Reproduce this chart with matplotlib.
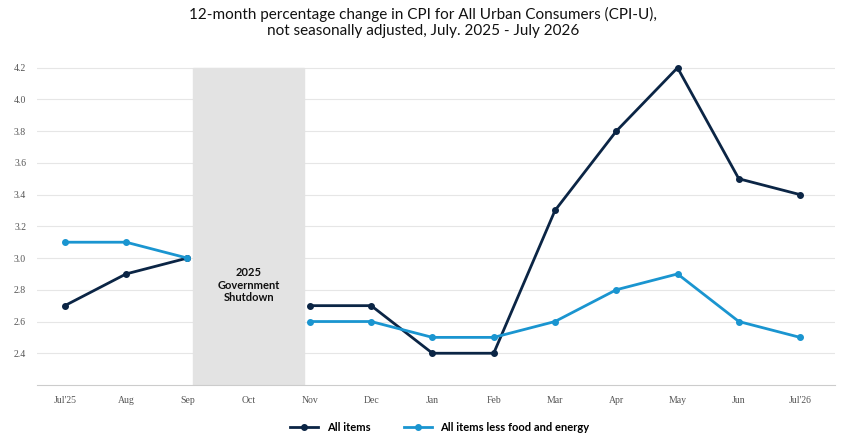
import matplotlib.pyplot as plt
import numpy as np

months = ["Jul'25", "Aug", "Sep", "Oct", "Nov", "Dec", "Jan", "Feb", "Mar", "Apr", "May", "Jun", "Jul'26"]
all_items = [2.7, 2.9, 3.0, np.nan, 2.7, 2.7, 2.4, 2.4, 3.3, 3.8, 4.2, 3.5, 3.4]
core = [3.1, 3.1, 3.0, np.nan, 2.6, 2.6, 2.5, 2.5, 2.6, 2.8, 2.9, 2.6, 2.5]
yticks = [2.4, 2.6, 2.8, 3.0, 3.2, 3.4, 3.6, 3.8, 4.0, 4.2]

DARK = "#0b2545"
BLUE = "#1a95d0"

fig = plt.figure(figsize=(8.46, 4.43), dpi=100)
ax = fig.add_axes([0.044, 0.131, 0.943, 0.734])
x = np.arange(len(months))

ax.axvspan(2.1, 3.9, ymin=0, ymax=(4.2 - 2.2) / (4.25 - 2.2), color="#e3e3e3", zorder=1)
ax.text(3, 2.83, "2025\nGovernment\nShutdown", ha="center", va="center",
        fontsize=8, fontweight="bold", family="Lato", color="#111", zorder=3)

ax.plot(x, all_items, color=DARK, lw=2, marker="o", ms=4, zorder=4, label="All items")
ax.plot(x, core, color=BLUE, lw=2, marker="o", ms=4, zorder=4, label="All items less food and energy")

ax.set_xlim(-0.45, 12.57)
ax.set_ylim(2.2, 4.25)
ax.set_xticks(x)
ax.set_xticklabels(months, family="Liberation Serif", fontsize=7, color="#555")
ax.set_yticks(yticks)
ax.set_yticklabels([f"{v:.1f}" for v in yticks], family="Liberation Serif", fontsize=7, color="#555")
ax.tick_params(length=0, pad=8)
ax.yaxis.grid(True, color="#e6e6e6", lw=0.8, zorder=0)
ax.set_axisbelow(True)
for s in ("top", "right", "left"):
    ax.spines[s].set_visible(False)
ax.spines["bottom"].set_color("#cccccc")

fig.suptitle("12-month percentage change in CPI for All Urban Consumers (CPI-U),\n"
             "not seasonally adjusted, July. 2025 - July 2026",
             y=0.985, fontsize=11, family="Lato", color="#111", linespacing=1.2)
fig.legend(loc="lower center", bbox_to_anchor=(0.52, 0.0), ncol=2, frameon=False,
           prop={"family": "Lato", "size": 8, "weight": "bold"}, handlelength=2.5, columnspacing=3)

fig.savefig("out.png", dpi=100)
